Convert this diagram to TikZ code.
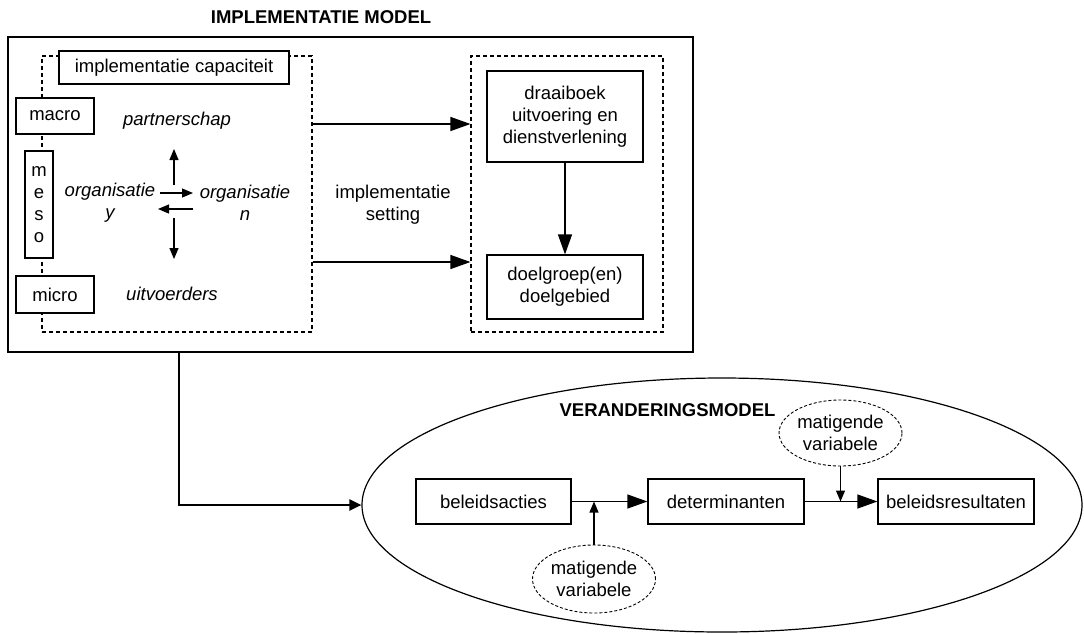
\documentclass[tikz,border=0pt]{standalone}
\usepackage{fontspec}
\setmainfont{Liberation Sans}
\usetikzlibrary{arrows.meta,shapes.geometric}

\tikzset{
  txt/.style={font=\fontsize{18.5}{22}\selectfont, inner sep=0pt, align=center},
  ttl/.style={font=\bfseries\fontsize{18.5}{22}\selectfont, inner sep=0pt},
  itx/.style={font=\itshape\fontsize{18.5}{22}\selectfont, inner sep=0pt, align=center},
  box/.style={txt, draw, fill=white, line width=1.2pt},
  dashbox/.style={draw, line width=1.1pt, dash pattern=on 4pt off 3pt, inner sep=0pt},
  modvar/.style={txt, draw, ellipse, line width=0.9pt, dash pattern=on 3pt off 2pt, inner sep=0pt},
  bigarrow/.style={line width=1.2pt, -{Triangle[length=20pt,width=14pt]}},
  smallarrow/.style={line width=1.2pt, -{Triangle[length=11pt,width=9pt]}},
  mainarrow/.style={line width=2.2pt, -{Triangle[length=12pt,width=11pt]}},
}

\begin{document}
\begin{tikzpicture}[x=1pt,y=-1pt]
\useasboundingbox (0,0) rectangle (1084,633);

% ---------- implementation model ----------
\node[ttl] (title) at (321,17) {IMPLEMENTATIE MODEL};
\node[draw, line width=1.2pt, minimum width=685pt, minimum height=315pt, inner sep=0pt] (outer) at (350.5,194.5) {};

% implementation capacity (left) and setting (right)
\node[dashbox, minimum width=270pt, minimum height=276pt] (setL) at (177,194) {};
\node[dashbox, minimum width=192pt, minimum height=276pt] (setR) at (567,194) {};

\node[box, minimum width=230pt, minimum height=33pt] (cap) at (174,67.5) {implementatie capaciteit};
\node[box, minimum width=78pt, minimum height=36pt] (macro) at (55,116) {macro};
\node[box, minimum width=28pt, minimum height=107pt] (meso) at (39,204.5) {m\\e\\s\\o};
\node[box, minimum width=78pt, minimum height=37pt] (micro) at (55,294.5) {micro};

\node[itx] (partner) at (177,121) {partnerschap};
\node[itx] (orgY) at (110,203) {organisatie\\y};
\node[itx] (orgN) at (245,203) {organisatie\\n};
\node[itx] (uitv) at (172,294) {uitvoerders};

% exchange between the organisations
\coordinate (upS) at (174,185);   \coordinate (upE) at (174,149);
\coordinate (rtS) at (160,193);   \coordinate (rtE) at (193,193);
\coordinate (ltS) at (193,209);   \coordinate (ltE) at (158,209);
\coordinate (dnS) at (174,218);   \coordinate (dnE) at (174,259);
\draw[smallarrow] (upS) -- (upE);
\draw[smallarrow] (rtS) -- (rtE);
\draw[smallarrow] (ltS) -- (ltE);
\draw[smallarrow] (dnS) -- (dnE);

\node[txt] (setting) at (393,205) {implementatie\\setting};
\draw[bigarrow] ([yshift=70pt]setL.east) -- ([yshift=70pt]setR.west);
\draw[bigarrow] ([yshift=-68pt]setL.east) -- ([yshift=-68pt]setR.west);

\node[box, minimum width=156pt, minimum height=91pt] (draai) at (565,116.5) {draaiboek\\uitvoering en\\dienstverlening};
\node[box, minimum width=156pt, minimum height=64pt] (doel) at (565,287) {doelgroep(en)\\doelgebied};
\draw[bigarrow] (draai.south) -- (doel.north);

% ---------- change model ----------
\node[draw, ellipse, line width=1.2pt, minimum width=720pt, minimum height=254pt, inner sep=0pt] (change) at (722,505) {};
\draw[mainarrow] ([xshift=-171.5pt]outer.south) |- (change.west);

\node[ttl] (title2) at (667.5,410) {VERANDERINGSMODEL};

\node[box, minimum width=155pt, minimum height=45pt] (acties) at (493.5,501.5) {beleidsacties};
\node[box, minimum width=156pt, minimum height=45pt] (determ) at (726,501.5) {determinanten};
\node[box, minimum width=156pt, minimum height=45pt] (result) at (956,501.5) {beleidsresultaten};
\draw[bigarrow] (acties.east) -- (determ.west);
\draw[bigarrow] (determ.east) -- (result.west);

\node[modvar, minimum width=123pt, minimum height=68pt] (mod1) at (594,579) {matigende\\variabele};
\node[modvar, minimum width=123pt, minimum height=66pt] (mod2) at (840.5,433) {matigende\\variabele};
\draw[smallarrow] (mod1.north) -- (mod1.north |- acties.east);
\draw[smallarrow] (mod2.south) -- (mod2.south |- determ.east);
\end{tikzpicture}
\end{document}
